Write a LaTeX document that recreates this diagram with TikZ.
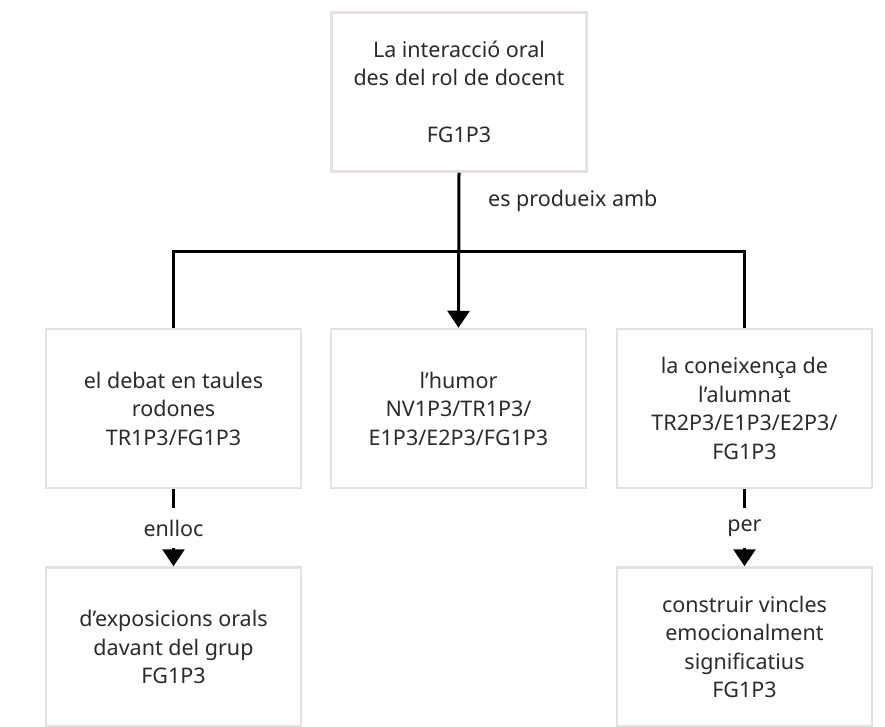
\documentclass[tikz,border=0pt]{standalone}
\usepackage{fontspec}
\setmainfont{Noto Sans}
\usetikzlibrary{arrows.meta}
\definecolor{boxline}{HTML}{E6E0E3}
\definecolor{ink}{HTML}{2B2B2B}

\begin{document}
\begin{tikzpicture}[x=1pt,y=-1pt,
  card/.style={draw=boxline, line width=2.5pt, fill=white,
    minimum width=255pt, minimum height=159pt, inner sep=0pt,
    align=center, text=ink, font=\fontsize{21.5}{28.5}\selectfont},
  link/.style={line width=3pt, draw=black},
  tip/.style={-{Triangle[width=22pt,length=17pt]}},
  tag/.style={text=ink, font=\fontsize{21.5}{28.5}\selectfont, inner sep=0pt}]

% canvas
\useasboundingbox (0,0) rectangle (885,727);
\fill[white] (0,0) rectangle (885,727);

% boxes
\node[card] (top) at (459,92) {La interacció oral\\des del rol de docent\\[28.5pt]FG1P3};
\node[card] (left) at (173.5,408.5) {el debat en taules\\rodones\\TR1P3/FG1P3};
\node[card] (mid) at (458.5,408.5) {l’humor\\NV1P3/TR1P3/\\E1P3/E2P3/FG1P3};
\node[card] (right) at (744.5,408.5) {la coneixença de\\l’alumnat\\TR2P3/E1P3/E2P3/\\FG1P3};
\node[card] (bl) at (173.5,647) {d’exposicions orals\\davant del grup\\FG1P3};
\node[card] (br) at (744.5,647) {construir vincles\\emocionalment\\significatius\\FG1P3};

% relation labels
\node[tag, anchor=west] (rel) at (488,201) {es produeix amb};
\node[tag, minimum height=40pt] (l1) at (173.5,528) {enlloc};
\node[tag, minimum height=40pt] (l2) at (744.5,528) {per};

% connectors
\coordinate (hub) at (459,251);
\draw[link,tip] (top.south) -- (mid.north);
\draw[link] (left.north) |- (hub) -| (right.north);
\draw[link] (left.south) -- (l1.north);
\draw[link,tip] (l1.south) -- (bl.north);
\draw[link] (right.south) -- (l2.north);
\draw[link,tip] (l2.south) -- (br.north);
\end{tikzpicture}
\end{document}
